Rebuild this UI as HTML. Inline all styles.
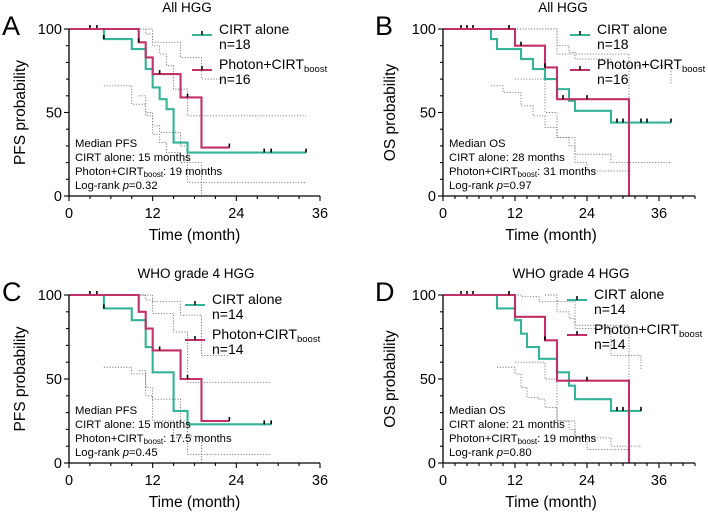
<!DOCTYPE html>
<html><head><meta charset="utf-8"><style>
html,body{margin:0;padding:0;background:#fff;width:708px;height:513px;overflow:hidden}
svg{display:block;font-family:"Liberation Sans",Arial,sans-serif}
</style></head><body>
<svg id="fig" width="708" height="513" viewBox="0 0 708 513"></svg>
<script>
// ---- data (months, survival %) ----
const xTicks = [0,12,24,36];
const yTicks = [0,50,100];
// Panel A: PFS all HGG
const aCirt = [[0,100],[5,94],[9,88],[11,76],[12,65],[13,58],[14,52],[15,32],[17,26],[34,26]];
const aCirtCens = [3,4,5,28,29,34];
const aPhot = [[0,100],[10,92],[11,83],[12,73],[16,59],[19,29],[23,29]];
const aPhotCens = [10,13,17,23];
const aCI1 = [[5,66],[9,55],[11,48],[12,37],[13,32],[14,26],[16,20],[17,8],[34,8]];
const aCI2 = [[9,100],[11,97],[12,90],[13,85],[14,78],[15,64],[17,48],[34,48]];
const aCI3 = [[11,100],[12,92],[16,83],[19,70],[23,70]];
const aCI4 = [[10,60],[11,50],[12,42],[13,38],[16,30],[17,20],[19,0],[23,0]];
// Panel B: OS all HGG
const bCirt = [[0,100],[8,94],[9,88],[13,82],[15,76],[17,70],[19,64],[21,57],[22,51],[28,44],[38,44]];
const bCirtCens = [3,4,5,29,30,33,34,38];
const bPhot = [[0,100],[12,90],[17,77],[19,58],[31,58],[31,0]];
const bPhotCens = [11,13,17,20,24];
const bCI1 = [[8,66],[10,62],[13,54],[15,48],[17,41],[19,35],[21,30],[22,25],[28,20],[38,20]];
const bCI2 = [[10,100],[17,100],[19,90],[21,86],[22,82],[28,78],[38,67]];
const bCI3 = [[17,100],[19,85],[22,85],[31,85],[31,15]];
const bCI4 = [[12,70],[17,50],[19,35],[22,20],[24,15],[31,15]];
// Panel C: PFS grade 4
const cCirt = [[0,100],[5,92],[9,85],[11,69],[12,54],[15,31],[17,23],[29,23]];
const cCirtCens = [3,4,5,28,29];
const cPhot = [[0,100],[10,90],[11,80],[12,67],[16,50],[19,25],[23,25]];
const cPhotCens = [13,17,23];
const cCI1 = [[5,57],[9,53],[11,40],[12,25],[15,15],[17,5],[29,5]];
const cCI2 = [[9,100],[11,97],[12,89],[15,78],[17,48],[29,48]];
const cCI3 = [[10,100],[12,96],[16,88],[19,64],[23,64]];
const cCI4 = [[10,55],[11,45],[12,38],[16,25],[17,16],[19,0],[23,0]];
// Panel D: OS grade 4
const dCirt = [[0,100],[9,92],[12,85],[13,77],[14,69],[16,62],[19,54],[21,46],[22,38],[28,31],[33,31]];
const dCirtCens = [3,4,5,29,30,31,33];
const dPhot = [[0,100],[12,87],[17,73],[19,49],[31,49],[31,0]];
const dPhotCens = [11,17,24];
const dCI1 = [[9,57],[12,53],[13,45],[14,39],[16,38],[17,33],[19,25],[21,20],[22,15],[28,10],[33,10]];
const dCI2 = [[12,100],[13,99],[16,96],[19,90],[21,86],[22,80],[28,64],[33,55]];
const dCI3 = [[17,100],[19,96],[22,82],[31,82],[31,8]];
const dCI4 = [[12,60],[17,50],[19,25],[22,15],[24,8],[31,8]];

const TEAL = "#34b398", RED = "#c2306a";
const NS = "http://www.w3.org/2000/svg";
const svg = document.getElementById("fig");
function mk(tag, attrs, parent, text){
  const e = document.createElementNS(NS, tag);
  for (const k in attrs) e.setAttribute(k, attrs[k]);
  if (text !== undefined) e.textContent = text;
  (parent||svg).appendChild(e); return e;
}
function panel(cfg){
  const g = mk("g", {});
  
  
  const X = m => cfg.x0 + m * cfg.ppm;
  const Y = v => cfg.y0 - v * (cfg.y0 - cfg.y100) / 100;
  const stepPath = pts => { let d = "M" + X(pts[0][0]) + "," + Y(pts[0][1]);
    for (let i = 1; i < pts.length; i++) d += " H" + X(pts[i][0]) + " V" + Y(pts[i][1]); return d; };
  const valAt = (pts, t) => { let v = pts[0][1]; for (const p of pts) if (p[0] <= t) v = p[1]; return v; };
  cfg.ci.forEach((c, i) => {
    const p = mk("path", {d: stepPath(c), fill: "none", stroke: "#777", "stroke-width": 0.9, "stroke-dasharray": "1.2,1.6"}, g);
    
    
  });
  [[cfg.cirt, cfg.cirtCens, TEAL, 'cirt-alone'], [cfg.phot, cfg.photCens, RED, 'photon-cirt-boost']].forEach(s => {
    const p = mk("path", {d: stepPath(s[0]), fill: "none", stroke: s[2], "stroke-width": 2.1}, g);
    
    
    s[1].forEach(t => {
      const y = Y(valAt(s[0], t));
      const c = mk("line", {x1: X(t), x2: X(t), y1: y - 4, y2: y, stroke: "#000", "stroke-width": 1.6}, g);
      
      
    });
  });
  const xEnd = X(cfg.xmax);
  const ax = mk("path", {d: `M${cfg.x0},${cfg.y100} V${cfg.y0} H${xEnd}`, fill: "none", stroke: "#000", "stroke-width": 1.3}, g);
  
  
  for (let v = 0; v <= 100; v += 10) {
    const maj = v % 50 === 0;
    mk("line", {x1: cfg.x0 - (maj ? 5 : 3), x2: cfg.x0, y1: Y(v), y2: Y(v), stroke: "#000", "stroke-width": 1.1}, g);
  }
  for (let m = 0; m <= cfg.xmax + 0.01; m += cfg.minor) {
    const maj = m % 12 === 0;
    mk("line", {x1: X(m), x2: X(m), y1: cfg.y0, y2: cfg.y0 + (maj ? 5 : 3), stroke: "#000", "stroke-width": 1.1}, g);
  }
  yTicks.forEach(v => {
    const t = mk("text", {x: cfg.x0 - 7, y: Y(v) + 5, "text-anchor": "end", "font-size": 14.5}, g, String(v));
    
    
  });
  xTicks.forEach(m => {
    const t = mk("text", {x: X(m), y: cfg.y0 + 22, "text-anchor": "middle", "font-size": 14.5}, g, String(m));
    
    
  });
  const xt = mk("text", {x: cfg.x0 + 18 * cfg.ppm, y: cfg.y0 + 44, "text-anchor": "middle", "font-size": 15.5}, g, "Time (month)");
  
  
  const yc = (cfg.y0 + cfg.y100) / 2;
  const yt = mk("text", {x: cfg.ytx, y: yc, "text-anchor": "middle", "font-size": 15.5, transform: `rotate(-90 ${cfg.ytx} ${yc})`}, g, cfg.ytitle);
  
  
  const ti = mk("text", {x: cfg.titleX, y: cfg.y100 - 17, "text-anchor": "middle", "font-size": 13.5}, g, cfg.title);
  
  
  const lt = mk("text", {x: cfg.lx, y: cfg.y100 + 6, "font-size": 27}, g, cfg.letter);
  
  
  const L = cfg.leg;
  [[TEAL, "CIRT alone", cfg.n1, 0], [RED, null, cfg.n2, 1]].forEach(e => {
    const yl = L.y + e[3] * 35;
    const ln = mk("line", {x1: L.x, x2: L.x + 20, y1: yl, y2: yl, stroke: e[0], "stroke-width": 2.1}, g);
    
    
    mk("line", {x1: L.x + 10, x2: L.x + 10, y1: yl - 4, y2: yl, stroke: "#000", "stroke-width": 1.5}, g);
    const t = mk("text", {x: L.x + 27, y: yl - 1, "font-size": 14}, g);
    
    
    if (e[1]) t.textContent = e[1];
    else { t.appendChild(document.createTextNode("Photon+CIRT")); mk("tspan", {"font-size": 9.5, dy: 3}, t, "boost"); }
    mk("text", {x: L.x + 27, y: yl + 14, "font-size": 14}, g, "n=" + e[2]);
  });
  const ay = cfg.y0 - 49, axx = cfg.x0 + 6;
  const lines = ["Median " + cfg.ep, "CIRT alone: " + cfg.m1 + " months", null, "Log-rank "];
  lines.forEach((s, i) => {
    const t = mk("text", {x: axx, y: ay + i * 14, "font-size": 11.3}, g);
    
    
    if (i === 2) { t.appendChild(document.createTextNode("Photon+CIRT")); mk("tspan", {"font-size": 8, dy: 2}, t, "boost"); mk("tspan", {dy: -2}, t, ": " + cfg.m2 + " months"); }
    else if (i === 3) { t.appendChild(document.createTextNode(s)); mk("tspan", {"font-style": "italic"}, t, "p"); mk("tspan", {}, t, "=" + cfg.p); }
    else t.textContent = s;
  });
}
panel({letter:"A", title:"All HGG", titleX:187, lx:2, x0:69, ppm:251/36, y0:196, y100:29, xmax:36, minor:3, ytx:25, ytitle:"PFS probability",
  cirt:aCirt, cirtCens:aCirtCens, phot:aPhot, photCens:aPhotCens, ci:[aCI1,aCI2,aCI3,aCI4], leg:{x:192,y:35}, n1:18, n2:16,
  ep:"PFS", m1:"15", m2:"19", p:"0.32"});
panel({letter:"B", title:"All HGG", titleX:563, lx:375, x0:443, ppm:6.0, y0:196, y100:29, xmax:42, minor:2, ytx:395, ytitle:"OS probability",
  cirt:bCirt, cirtCens:bCirtCens, phot:bPhot, photCens:bPhotCens, ci:[bCI1,bCI2,bCI3,bCI4], leg:{x:570,y:35}, n1:18, n2:16,
  ep:"OS", m1:"28", m2:"31", p:"0.97"});
panel({letter:"C", title:"WHO grade 4 HGG", titleX:196, lx:2, x0:69, ppm:251/36, y0:463, y100:295, xmax:36, minor:3, ytx:25, ytitle:"PFS probability",
  cirt:cCirt, cirtCens:cCirtCens, phot:cPhot, photCens:cPhotCens, ci:[cCI1,cCI2,cCI3,cCI4], leg:{x:185,y:305}, n1:14, n2:14,
  ep:"PFS", m1:"15", m2:"17.5", p:"0.45"});
panel({letter:"D", title:"WHO grade 4 HGG", titleX:571, lx:375, x0:443, ppm:6.0, y0:463, y100:295, xmax:42, minor:2, ytx:395, ytitle:"OS probability",
  cirt:dCirt, cirtCens:dCirtCens, phot:dPhot, photCens:dPhotCens, ci:[dCI1,dCI2,dCI3,dCI4], leg:{x:567,y:300}, n1:14, n2:14,
  ep:"OS", m1:"21", m2:"19", p:"0.80"});
</script>
</body></html>
